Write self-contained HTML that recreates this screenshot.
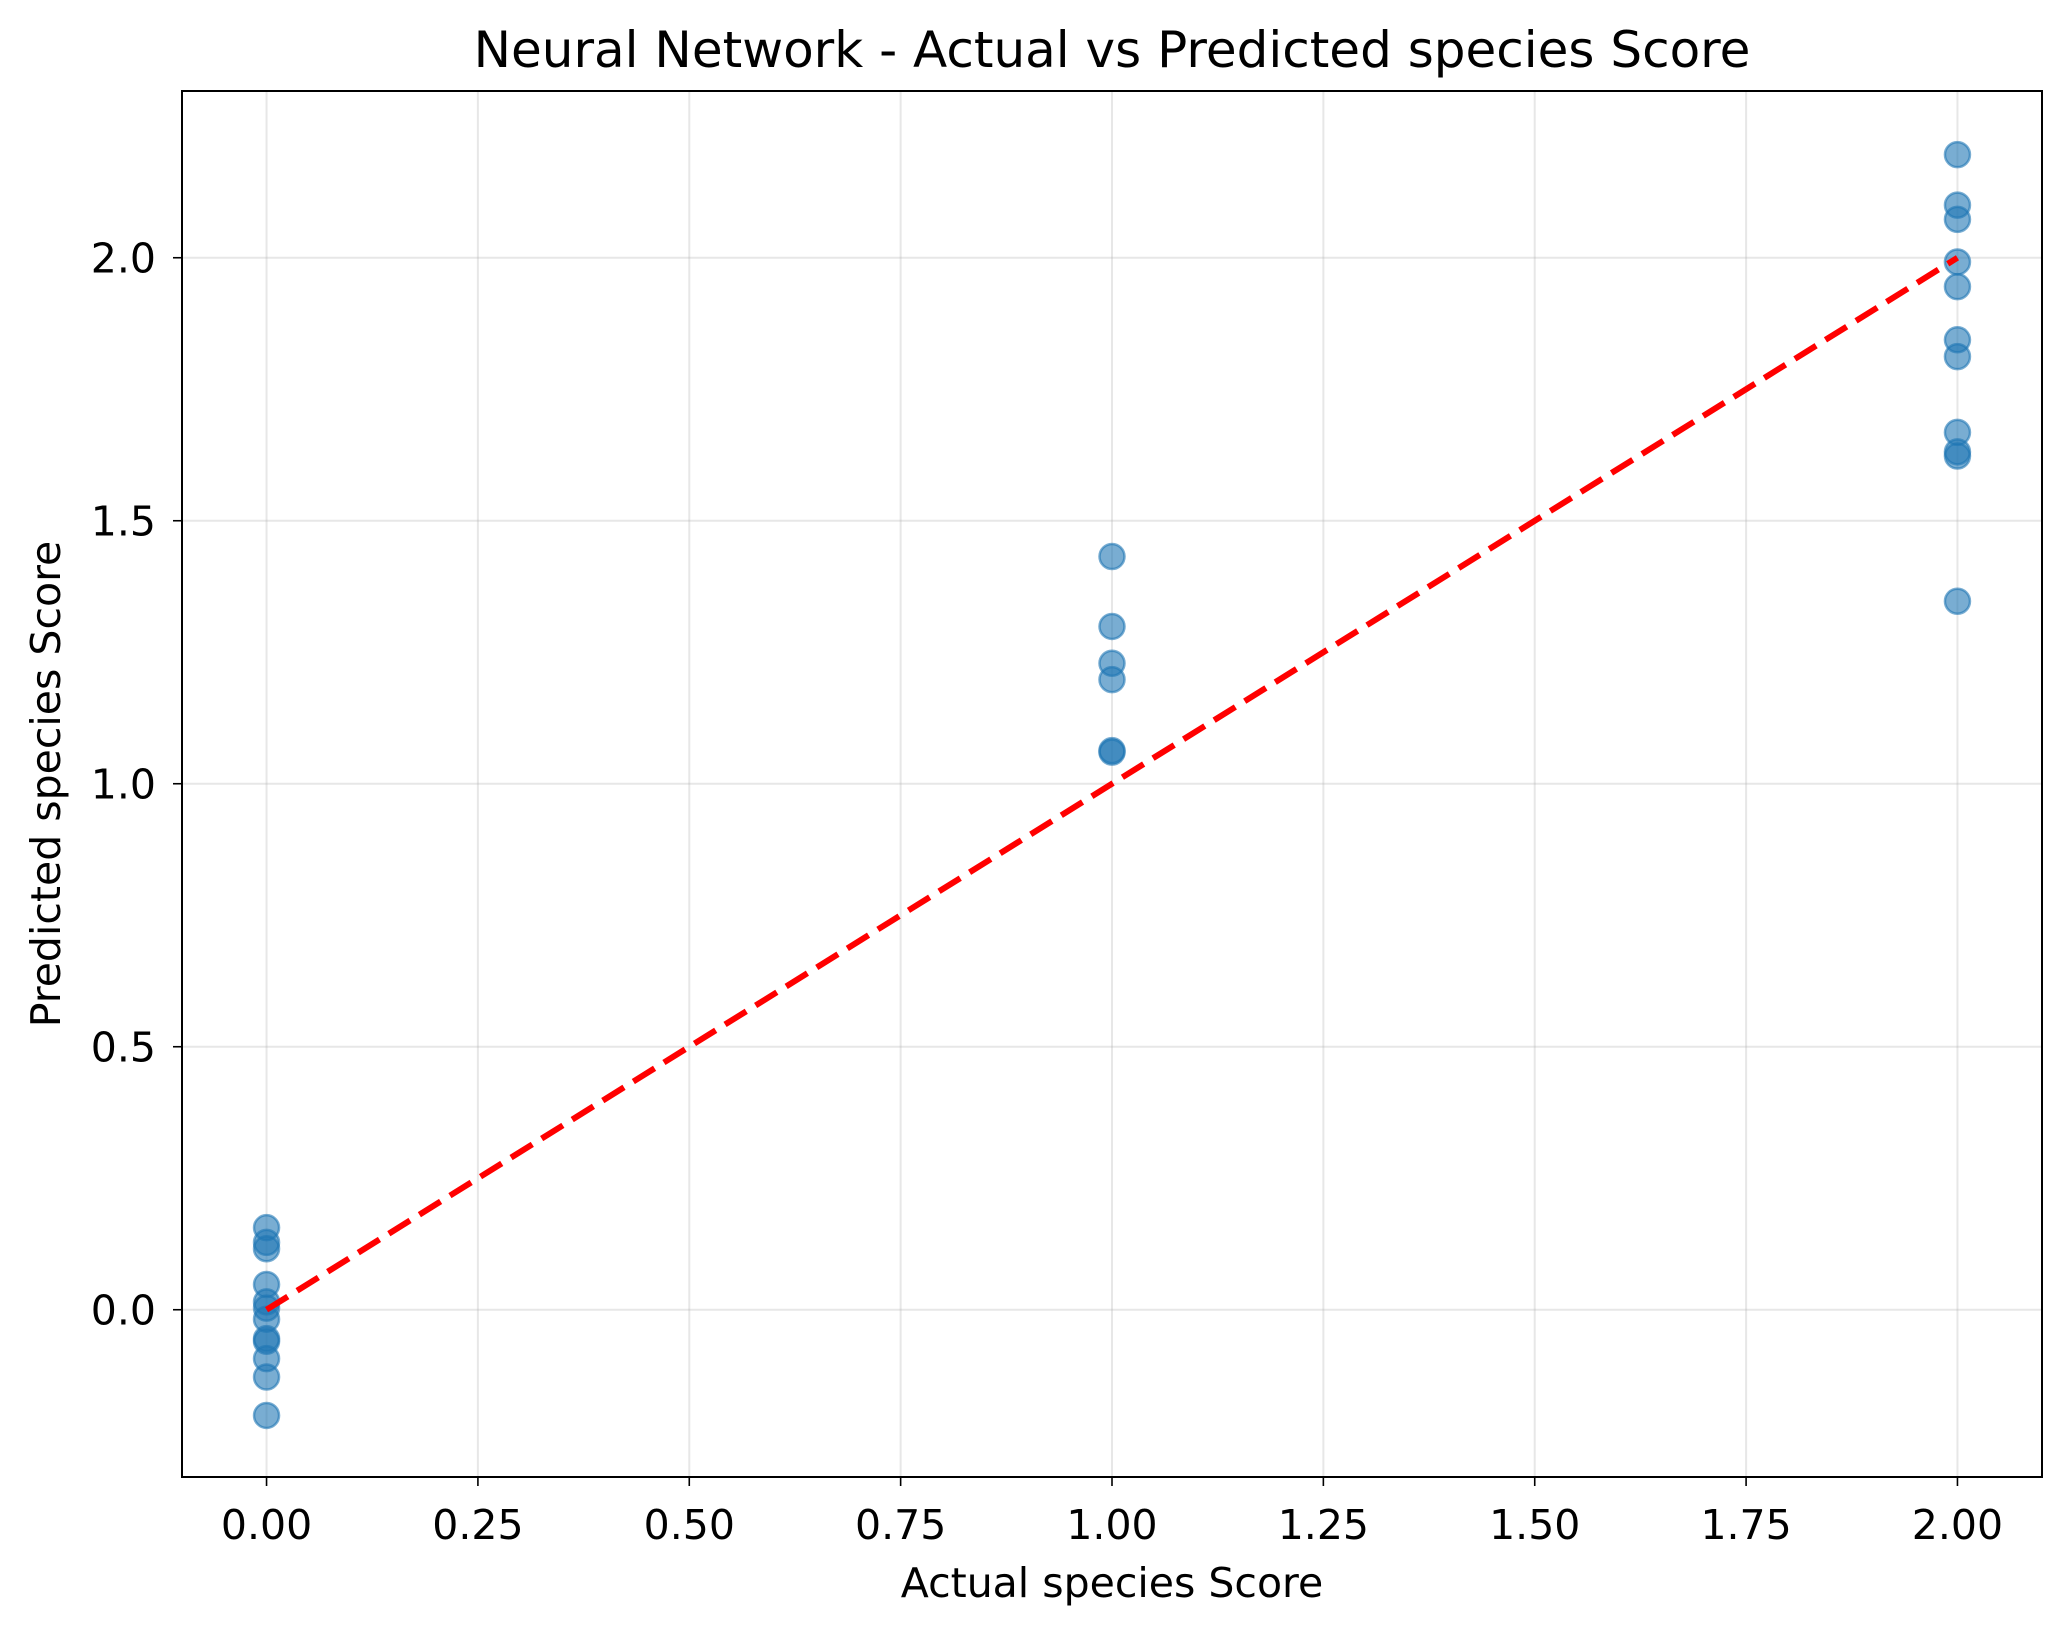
<!DOCTYPE html>
<html><head><meta charset="utf-8"><style>
html,body{margin:0;padding:0;background:#fff;}
svg text{font-family:"DejaVu Sans","Liberation Sans",sans-serif;fill:#000;}
</style></head><body>
<svg id="chart" width="2072" height="1634" viewBox="0 0 2072 1634" xmlns="http://www.w3.org/2000/svg">
<rect width="2072" height="1634" fill="#fff"/>
<g id="grid"></g>
<g id="marks"></g>
<g id="axes"></g>
<text x="1112" y="67" text-anchor="middle" font-size="50">Neural Network - Actual vs Predicted species Score</text>
<text x="1112" y="1597" text-anchor="middle" font-size="41">Actual species Score</text>
<text transform="translate(60,784) rotate(-90)" text-anchor="middle" font-size="41">Predicted species Score</text>
</svg>
<script>
const actualX = [0,0,0,0,0,0,0,0,0,0,0,0, 1,1,1,1,1,1, 2,2,2,2,2,2,2,2,2,2,2];
const predictedY = [0.156,0.128,0.116,0.048,0.015,0.003,-0.018,-0.055,-0.06,-0.093,-0.128,-0.201,
 1.432,1.299,1.229,1.198,1.063,1.06,
 2.196,2.10,2.073,1.992,1.945,1.844,1.812,1.668,1.631,1.623,1.347];
const xTicks = [0,0.25,0.5,0.75,1.0,1.25,1.5,1.75,2.0];
const xTickLabels = ["0.00","0.25","0.50","0.75","1.00","1.25","1.50","1.75","2.00"];
const yTicks = [0,0.5,1.0,1.5,2.0];
const yTickLabels = ["0.0","0.5","1.0","1.5","2.0"];
const refLine = [0,2];

const L=182,R=2042,T=91,B=1477;
const xMin=-0.1,xMax=2.1,yMin=-0.318,yMax=2.317;
const sx=v=>L+(v-xMin)/(xMax-xMin)*(R-L);
const sy=v=>B-(v-yMin)/(yMax-yMin)*(B-T);
const NS="http://www.w3.org/2000/svg";
function mk(tag,attrs,parent){const e=document.createElementNS(NS,tag);for(const k in attrs)e.setAttribute(k,attrs[k]);parent.appendChild(e);return e;}
const grid=document.getElementById('grid'),marks=document.getElementById('marks'),axes=document.getElementById('axes');
xTicks.forEach((t,i)=>{
  const g=mk('line',{x1:sx(t),x2:sx(t),y1:T,y2:B,stroke:'#b0b0b0','stroke-opacity':0.3,'stroke-width':2},grid);
  
  
  const tk=mk('line',{x1:sx(t),x2:sx(t),y1:B,y2:B+9,stroke:'#000','stroke-width':1.6},axes);
  
  
  const tx=mk('text',{x:sx(t),y:B+62,'text-anchor':'middle','font-size':41},axes);
  tx.textContent=xTickLabels[i];
  
  
});
yTicks.forEach((t,i)=>{
  const g=mk('line',{x1:L,x2:R,y1:sy(t),y2:sy(t),stroke:'#b0b0b0','stroke-opacity':0.3,'stroke-width':2},grid);
  
  
  const tk=mk('line',{x1:L-9,x2:L,y1:sy(t),y2:sy(t),stroke:'#000','stroke-width':1.6},axes);
  
  
  const tx=mk('text',{x:L-26,y:sy(t)+15,'text-anchor':'end','font-size':41},axes);
  tx.textContent=yTickLabels[i];
  
  
});
actualX.forEach((xv,i)=>{
  const c=mk('circle',{cx:sx(xv),cy:sy(predictedY[i]),r:12.5,fill:'#1f77b4','fill-opacity':0.6,stroke:'#1f77b4','stroke-opacity':0.6,'stroke-width':2.5},marks);
  
  
});
const ln=mk('line',{x1:sx(refLine[0]),y1:sy(refLine[0]),x2:sx(refLine[1]),y2:sy(refLine[1]),stroke:'#ff0000','stroke-width':6,'stroke-dasharray':'25 11'},marks);


const fr=mk('rect',{x:L,y:T,width:R-L,height:B-T,fill:'none',stroke:'#000','stroke-width':2},axes);


</script>
</body></html>
